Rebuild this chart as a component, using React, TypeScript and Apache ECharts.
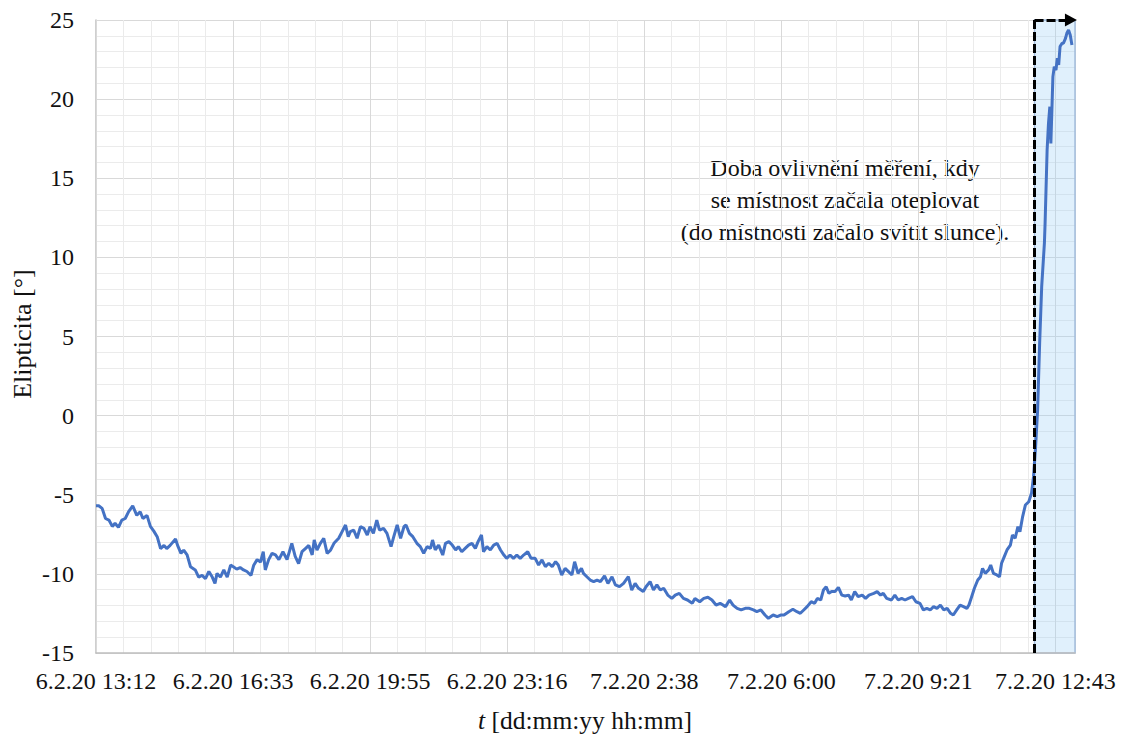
import React, { useEffect, useRef } from 'react';
import * as echarts from 'echarts';

// time in minutes since 6.2.20 13:12
const TIME_MIN = [
  0, 4, 9, 14, 19, 24, 28, 33, 38, 43, 48, 54, 60, 65, 69, 75, 80, 85, 90, 95,
  100, 104, 109, 117, 120, 125, 129, 134, 139, 146, 151, 156, 161, 166, 171, 175, 178, 183, 188, 193,
  198, 202, 207, 212, 217, 222, 228, 232, 237, 242, 246, 249, 254, 259, 264, 269, 275, 281, 288, 293,
  298, 303, 308, 313, 318, 321, 325, 330, 335, 340, 345, 350, 357, 362, 367, 371, 374, 379, 384, 389,
  394, 399, 403, 408, 413, 417, 423, 428, 434, 438, 443, 448, 453, 456, 461, 466, 472, 477, 482, 487,
  492, 495, 499, 504, 510, 514, 519, 524, 529, 533, 538, 543, 548, 553, 558, 562, 567, 570, 575, 580,
  585, 590, 595, 600, 604, 609, 614, 619, 624, 629, 635, 640, 646, 651, 656, 661, 666, 671, 676, 680,
  685, 690, 695, 700, 704, 709, 714, 717, 722, 727, 732, 737, 742, 748, 753, 759, 764, 770, 776, 783,
  788, 793, 798, 805, 809, 815, 820, 825, 830, 835, 841, 847, 852, 858, 864, 870, 877, 881, 888, 894,
  900, 906, 912, 918, 926, 932, 937, 943, 949, 955, 961, 967, 972, 978, 984, 989, 996, 1002, 1007, 1012,
  1019, 1025, 1031, 1036, 1041, 1046, 1052, 1057, 1061, 1066, 1070, 1074, 1078, 1082, 1087, 1092, 1097, 1102, 1107, 1111,
  1116, 1121, 1127, 1132, 1137, 1144, 1149, 1154, 1158, 1163, 1170, 1175, 1180, 1185, 1190, 1195, 1201, 1206, 1212, 1217,
  1222, 1227, 1232, 1237, 1242, 1247, 1252, 1257, 1261, 1266, 1271, 1276, 1281, 1284, 1288, 1292, 1297, 1301, 1304, 1308,
  1313, 1316, 1320, 1325, 1329, 1332, 1336, 1340, 1345, 1348, 1352, 1356, 1359, 1363, 1367, 1372, 1376, 1379, 1382, 1385,
  1388, 1391, 1395, 1396, 1399, 1401, 1403, 1404.5, 1406, 1407.5, 1409.5, 1412, 1414, 1416, 1418, 1421, 1423, 1426, 1428, 1430.5,
  1433, 1435.5,
];

// ellipticity in degrees
const ELIPTICITA = [
  -5.7, -5.7, -5.86, -6.5, -6.6, -7.0, -6.8, -7.06, -6.6, -6.5, -6.07, -5.7, -6.3, -6.07, -6.5, -6.3, -7.0, -7.3, -7.65, -8.4,
  -8.2, -8.4, -8.2, -7.8, -8.2, -8.7, -8.5, -8.8, -9.55, -9.75, -10.2, -10.1, -10.3, -9.85, -10.2, -10.6, -9.97, -10.2, -9.75, -10.2,
  -9.45, -9.55, -9.7, -9.6, -9.75, -9.85, -10.1, -9.45, -9.1, -9.25, -8.6, -9.75, -9.1, -8.7, -8.8, -9.1, -8.6, -9.1, -8.07, -8.9,
  -9.35, -8.6, -8.4, -8.2, -8.8, -7.86, -8.5, -8.07, -7.76, -8.7, -8.5, -8.07, -7.75, -7.33, -6.91, -7.65, -7.33, -7.23, -7.75, -7.02,
  -7.12, -7.54, -7.02, -7.44, -6.6, -7.23, -7.12, -7.44, -8.28, -7.65, -6.91, -7.75, -7.02, -6.91, -7.44, -7.65, -8.07, -8.28, -8.7, -8.28,
  -8.39, -7.86, -8.49, -8.18, -8.81, -8.07, -7.96, -8.18, -8.49, -8.28, -8.6, -8.39, -8.18, -8.07, -8.39, -7.96, -7.54, -8.6, -8.28, -8.49,
  -8.18, -8.07, -8.49, -8.81, -9.02, -8.81, -9.02, -8.81, -9.02, -8.81, -8.6, -9.02, -9.02, -9.44, -9.12, -9.54, -9.33, -9.54, -9.23, -9.44,
  -10.07, -9.65, -9.86, -10.07, -9.23, -9.97, -9.65, -9.97, -10.18, -10.39, -10.49, -10.39, -10.49, -10.13, -10.6, -10.18, -10.7, -10.81, -10.6, -10.18,
  -11.02, -10.6, -10.91, -11.12, -10.81, -10.49, -11.02, -10.7, -11.02, -10.91, -11.34, -11.55, -11.34, -11.23, -11.55, -11.65, -11.86, -11.55, -11.76, -11.55,
  -11.48, -11.65, -11.97, -11.86, -12.07, -11.65, -11.97, -12.18, -12.28, -12.18, -12.18, -12.28, -12.39, -12.28, -12.6, -12.81, -12.6, -12.7, -12.6, -12.6,
  -12.39, -12.24, -12.39, -12.49, -12.28, -12.07, -11.76, -11.86, -11.55, -11.65, -11.02, -10.81, -11.23, -11.12, -11.12, -10.85, -11.34, -11.4, -11.34, -11.65,
  -11.12, -11.44, -11.34, -11.55, -11.34, -11.23, -11.12, -11.34, -11.23, -11.55, -11.65, -11.34, -11.65, -11.55, -11.65, -11.55, -11.44, -11.76, -11.86, -12.28,
  -12.18, -12.28, -12.07, -12.18, -11.97, -12.28, -12.18, -12.49, -12.6, -12.28, -11.97, -12.07, -12.18, -11.97, -11.44, -10.91, -10.39, -10.18, -9.65, -9.97,
  -9.75, -9.44, -9.97, -10.07, -10.18, -9.33, -8.91, -8.49, -8.18, -7.54, -7.75, -7.02, -7.33, -6.38, -5.65, -5.44, -4.91, -3.86, -2.0, 0.35,
  4.57, 8.15, 10.9, 12.15, 16.8, 18.47, 19.52, 17.2, 19.3, 21.42, 22.05, 21.84, 22.58, 22.16, 23.32, 23.53, 23.53, 23.84, 24.16, 24.37,
  24.05, 23.42,
];

const START_DAY = 6;
const START_CLOCK_MIN = 13 * 60 + 12;
const X_MIN = 0;
const X_MAX = 1440;
const X_MAJOR = 201.6; // 0.14 day
const X_MINOR = 40.32;
const Y_MIN = -15;
const Y_MAX = 25;
const Y_MAJOR = 5;

const INFLUENCE_START = 1380.5;
const INFLUENCE_END = 1440;
const ARROW_END = 1434;

const ANNOTATION = [
  'Doba ovlivnění měření, kdy',
  'se místnost začala oteplovat',
  '(do místnosti začalo svítit slunce).',
];
const X_TITLE_ITALIC = 't';
const X_TITLE_REST = ' [dd:mm:yy hh:mm]';
const Y_TITLE = 'Elipticita [°]';

const FONT = "'Liberation Serif', 'Times New Roman', serif";

function fmtTime(v: number): string {
  if (v > X_MAX - 20) return '';
  const total = Math.floor(START_CLOCK_MIN + v + 1e-6);
  const day = START_DAY + Math.floor(total / 1440);
  const r = total % 1440;
  const h = Math.floor(r / 60);
  const m = r % 60;
  return `${day}.2.20 ${h}:${String(m).padStart(2, '0')}`;
}

export default function App() {
  const ref = useRef<HTMLDivElement>(null);
  useEffect(() => {
    if (!ref.current) return;
    const chart = echarts.init(ref.current, null, { renderer: 'svg' });
    const data = TIME_MIN.map((t, i) => [t, ELIPTICITA[i]]);
    chart.setOption({
      animation: false,
      textStyle: { fontFamily: FONT },
      grid: { left: 96, right: 46, top: 20, bottom: 82, containLabel: false },
      xAxis: [
        {
          type: 'value',
          min: X_MIN,
          max: X_MAX,
          interval: X_MINOR,
          position: 'bottom',
          z: 0,
          axisLine: { show: false },
          axisTick: { show: false },
          axisLabel: { show: false },
          splitLine: { show: true, lineStyle: { color: '#ebebeb', width: 1 } },
        },
        {
          type: 'value',
          min: X_MIN,
          max: X_MAX,
          interval: X_MAJOR,
          position: 'bottom',
          z: 1,
          axisLine: { show: true, lineStyle: { color: '#bfbfbf', width: 1.5 } },
          axisTick: { show: false },
          axisLabel: {
            show: true,
            margin: 16,
            fontSize: 24,
            color: '#111',
            fontFamily: FONT,
            formatter: (v: number) => fmtTime(v),
          },
          splitLine: { show: true, lineStyle: { color: '#d9d9d9', width: 1 } },
        },
      ],
      yAxis: {
        type: 'value',
        min: Y_MIN,
        max: Y_MAX,
        interval: Y_MAJOR,
        axisLine: { show: true, lineStyle: { color: '#bfbfbf', width: 1.5 } },
        axisTick: { show: false },
        axisLabel: { margin: 22, fontSize: 24, color: '#111', fontFamily: FONT },
        splitLine: { show: true, lineStyle: { color: '#d9d9d9', width: 1 } },
        minorTick: { show: false, splitNumber: 5 },
        minorSplitLine: { show: true, lineStyle: { color: '#ebebeb', width: 1 } },
      },
      series: [
        {
          type: 'line',
          xAxisIndex: 1,
          data,
          showSymbol: false,
          symbol: 'none',
          lineStyle: { color: '#4472C4', width: 3 },
          itemStyle: { color: '#4472C4' },
          z: 3,
          markArea: {
            silent: true,
            itemStyle: {
              color: 'rgba(160,210,245,0.33)',
              borderColor: '#a3bddd',
              borderWidth: 1.5,
            },
            data: [[{ xAxis: INFLUENCE_START, yAxis: Y_MIN }, { xAxis: INFLUENCE_END, yAxis: Y_MAX }]],
          },
          markLine: {
            silent: true,
            symbol: ['none', 'none'],
            label: { show: false },
            lineStyle: { color: '#000', width: 3, type: [9, 3] },
            emphasis: { disabled: true },
            data: [
              [
                { coord: [INFLUENCE_START, Y_MIN], symbol: 'none' },
                { coord: [INFLUENCE_START, Y_MAX], symbol: 'none' },
              ],
              [
                { coord: [INFLUENCE_START, Y_MAX], symbol: 'none' },
                { coord: [ARROW_END, Y_MAX], symbol: 'triangle', symbolSize: [13, 12] },
              ],
            ],
          },
        },
      ],
      graphic: [
        {
          type: 'text',
          x: 845,
          y: 200,
          style: {
            text: ANNOTATION.join('\n'),
            fontFamily: FONT,
            fontSize: 24,
            lineHeight: 32,
            fill: '#111',
            align: 'center',
            verticalAlign: 'middle',
          },
        },
        {
          type: 'text',
          x: 585,
          y: 720,
          style: {
            text: `{i|${X_TITLE_ITALIC}}{n|${X_TITLE_REST}}`,
            align: 'center',
            verticalAlign: 'middle',
            fill: '#111',
            rich: {
              i: { fontFamily: FONT, fontSize: 25.5, fontStyle: 'italic', fill: '#111' },
              n: { fontFamily: FONT, fontSize: 25.5, fill: '#111' },
            },
          },
        },
        {
          type: 'text',
          x: 22,
          y: 334,
          rotation: Math.PI / 2,
          style: {
            text: Y_TITLE,
            fontFamily: FONT,
            fontSize: 26,
            fill: '#111',
            align: 'center',
            verticalAlign: 'middle',
          },
        },
      ],
    });
    return () => chart.dispose();
  }, []);
  return (
    <div
      ref={ref}
      style={{ position: 'fixed', left: 0, top: 0, width: 1121, height: 735, background: '#fff' }}
    />
  );
}
